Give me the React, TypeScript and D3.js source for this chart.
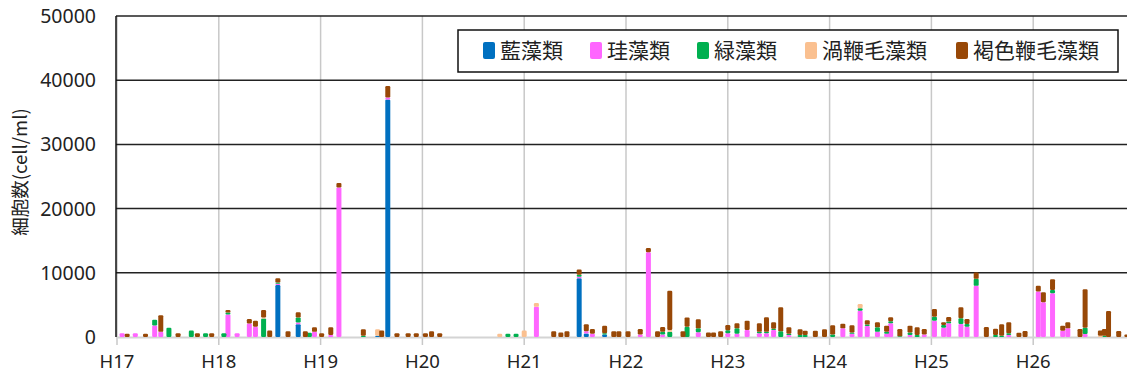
import React, { useEffect, useRef } from 'react';
import * as d3 from 'd3';

// sampling dates as decimal Heisei years (H17 = 17.0)
const dates = [
  17.05, 17.10, 17.18, 17.28, 17.37, 17.43, 17.51, 17.60, 17.73, 17.79, 17.87, 17.93,
  18.05, 18.09, 18.18, 18.30, 18.36, 18.44, 18.50, 18.58, 18.68, 18.78, 18.85, 18.89, 18.94,
  19.01, 19.10, 19.18, 19.42, 19.56, 19.60, 19.66, 19.75, 19.86, 19.94,
  20.03, 20.09, 20.17, 20.76, 20.84, 20.92,
  21.00, 21.12, 21.29, 21.36, 21.42, 21.54, 21.61, 21.67, 21.79, 21.88, 21.93,
  22.02, 22.14, 22.22, 22.31, 22.36, 22.43, 22.56, 22.60, 22.71, 22.81, 22.86, 22.93,
  23.00, 23.09, 23.19, 23.31, 23.38, 23.45, 23.52, 23.60, 23.71, 23.76, 23.86, 23.95,
  24.03, 24.13, 24.22, 24.30, 24.37, 24.47, 24.56, 24.60, 24.69, 24.79, 24.86, 24.93,
  25.03, 25.12, 25.17, 25.29, 25.35, 25.44, 25.54, 25.63, 25.69, 25.76, 25.86, 25.92,
  26.05, 26.10, 26.19, 26.29, 26.34, 26.46, 26.51, 26.66, 26.70, 26.74, 26.84, 26.92,
];

const blue = [
  0, 0, 0, 0, 0, 0, 0, 0, 0, 0, 0, 0,
  0, 0, 0, 0, 0, 0, 0, 8100, 0, 2000, 0, 0, 0,
  0, 0, 0, 0, 200, 0, 37000, 0, 0, 0,
  0, 0, 0, 0, 0, 0,
  0, 0, 0, 0, 0, 9150, 550, 0, 400, 0, 0,
  0, 0, 0, 0, 0, 0, 0, 0, 0, 0, 0, 0,
  0, 0, 0, 0, 0, 0, 0, 0, 0, 0, 0, 0,
  0, 0, 0, 0, 0, 0, 0, 0, 0, 0, 0, 0,
  0, 0, 0, 0, 0, 0, 0, 0, 0, 0, 0, 0,
  0, 0, 0, 0, 0, 0, 0, 0, 0, 0, 0, 0,
];

const pink = [
  600, 0, 600, 0, 1800, 800, 0, 0, 0, 0, 0, 0,
  0, 3500, 600, 2100, 1600, 0, 0, 200, 0, 250, 0, 0, 800,
  0, 300, 23300, 0, 0, 0, 300, 0, 0, 0,
  0, 0, 0, 0, 0, 0,
  0, 4700, 0, 0, 0, 250, 350, 500, 0, 0, 0,
  0, 400, 13200, 0, 400, 0, 0, 0, 730, 0, 0, 0,
  600, 500, 1100, 600, 600, 1100, 0, 300, 0, 0, 0, 0,
  0, 1350, 500, 4100, 1720, 800, 500, 2130, 0, 300, 0, 400,
  2550, 1460, 2130, 2030, 1610, 7970, 0, 0, 0, 300, 0, 0,
  7080, 5410, 6820, 990, 1350, 0, 470, 0, 0, 0, 0, 0,
];

const green = [
  0, 0, 0, 0, 900, 0, 1450, 0, 1000, 0, 600, 0,
  600, 300, 0, 0, 0, 2900, 0, 200, 0, 800, 0, 650, 0,
  0, 0, 0, 200, 0, 0, 0, 0, 0, 0,
  0, 0, 0, 0, 500, 500,
  0, 0, 0, 0, 0, 300, 0, 0, 200, 0, 0,
  0, 0, 0, 0, 400, 800, 0, 1600, 620, 0, 0, 0,
  450, 850, 0, 200, 200, 200, 880, 200, 300, 300, 0, 0,
  400, 0, 200, 370, 210, 700, 330, 320, 100, 400, 300, 0,
  620, 410, 270, 890, 420, 1090, 0, 300, 200, 300, 0, 0,
  0, 0, 520, 0, 0, 0, 990, 0, 200, 0, 0, 0,
];

const peach = [
  0, 0, 0, 0, 0, 0, 0, 0, 0, 0, 0, 0,
  0, 0, 0, 0, 0, 150, 0, 0, 0, 0, 0, 0, 0,
  0, 0, 0, 0, 1000, 0, 0, 0, 0, 0,
  0, 0, 0, 500, 0, 0,
  1000, 600, 0, 0, 0, 0, 0, 0, 0, 0, 0,
  0, 0, 0, 0, 0, 300, 0, 0, 0, 0, 0, 0,
  0, 0, 0, 0, 0, 0, 0, 0, 0, 0, 0, 0,
  0, 0, 0, 680, 0, 0, 0, 0, 0, 0, 0, 0,
  0, 0, 0, 0, 0, 0, 0, 0, 0, 0, 0, 0,
  0, 0, 0, 0, 0, 0, 0, 200, 0, 0, 0, 0,
];

const brown = [
  0, 500, 0, 500, 0, 2600, 0, 600, 0, 600, 0, 600,
  0, 400, 0, 700, 950, 1150, 1000, 650, 900, 800, 900, 0, 700,
  600, 1200, 700, 1000, 0, 1000, 1800, 600, 600, 600,
  600, 900, 600, 0, 0, 0,
  0, 0, 900, 700, 900, 800, 1100, 750, 1150, 900, 900,
  900, 850, 650, 900, 750, 6100, 900, 1450, 1400, 700, 700, 900,
  800, 780, 1450, 1330, 2270, 990, 3750, 1000, 900, 690, 990, 1200,
  1420, 730, 1120, 0, 670, 790, 940, 620, 1150, 1070, 1200, 850,
  1200, 420, 720, 1710, 780, 990, 1560, 1000, 1780, 1690, 680, 940,
  890, 1570, 1670, 780, 940, 1250, 5980, 800, 1050, 4060, 940, 400,
];

const seriesNames = ['藍藻類', '珪藻類', '緑藻類', '渦鞭毛藻類', '褐色鞭毛藻類'];
const seriesColors = ['#0070C0', '#FF66FF', '#00B050', '#FAC090', '#984807'];
const yTicks = [0, 10000, 20000, 30000, 40000, 50000];
const yearLabels = ['H17', 'H18', 'H19', 'H20', 'H21', 'H22', 'H23', 'H24', 'H25', 'H26'];

const W = 1127;
const H = 376;

const App: React.FC = () => {
  const svgRef = useRef<SVGSVGElement>(null);

  useEffect(() => {
    if (!svgRef.current) return;
    const svg = d3.select(svgRef.current);
    svg.selectAll('*').remove();

    const left = 116, top = 16, bottom = 337, right = W;

    const x = d3.scaleLinear().domain([17, 27]).range([117, 1135]);
    const y = d3.scaleLinear().domain([0, 50000]).range([bottom, top]);

    const rows = dates.map((d, i) => ({
      t: d,
      s0: blue[i], s1: pink[i], s2: green[i], s3: peach[i], s4: brown[i],
    }));
    const keys = ['s0', 's1', 's2', 's3', 's4'];
    const stacked = d3.stack<any>().keys(keys)(rows);

    svg.append('rect').attr('width', W).attr('height', H).attr('fill', 'white');

    // vertical year lines
    svg.append('g').selectAll('line')
      .data(d3.range(17, 27))
      .enter().append('line')
      .attr('x1', d => x(d)).attr('x2', d => x(d))
      .attr('y1', top).attr('y2', bottom + 8)
      .attr('stroke', '#c8c8c8').attr('stroke-width', 1.5);

    // horizontal grid
    svg.append('g').selectAll('line')
      .data(yTicks.filter(v => v > 0))
      .enter().append('line')
      .attr('x1', left).attr('x2', right)
      .attr('y1', d => y(d)).attr('y2', d => y(d))
      .attr('stroke', '#222').attr('stroke-width', 1.5);

    // bottom axis
    svg.append('line')
      .attr('x1', left).attr('x2', right).attr('y1', bottom + 0.5).attr('y2', bottom + 0.5)
      .attr('stroke', '#d4d4d4').attr('stroke-width', 2);

    // left axis
    svg.append('line')
      .attr('x1', left).attr('x2', left).attr('y1', top).attr('y2', bottom)
      .attr('stroke', '#111').attr('stroke-width', 1.5);

    // bars
    const bw = 5;
    svg.append('g').selectAll('g')
      .data(stacked)
      .enter().append('g')
      .attr('fill', (_d, i) => seriesColors[i])
      .selectAll('rect')
      .data(d => d.filter(p => p[1] - p[0] > 0))
      .enter().append('rect')
      .attr('x', d => x(d.data.t) - bw / 2)
      .attr('width', bw)
      .attr('y', d => y(d[1]))
      .attr('height', d => y(d[0]) - y(d[1]))
      .attr('rx', 1.2);

    // y tick labels
    svg.append('g').selectAll('text')
      .data(yTicks)
      .enter().append('text')
      .attr('x', 96).attr('y', d => y(d))
      .attr('dy', '0.36em')
      .attr('text-anchor', 'end')
      .attr('font-family', '"Noto Sans", sans-serif')
      .attr('font-size', 19.5)
      .attr('fill', '#222')
      .text(d => String(d));

    // x labels
    svg.append('g').selectAll('text')
      .data(yearLabels)
      .enter().append('text')
      .attr('x', (_d, i) => x(17 + i))
      .attr('y', 368)
      .attr('text-anchor', 'middle')
      .attr('font-family', '"Noto Sans", sans-serif')
      .attr('font-size', 18.5)
      .attr('fill', '#222')
      .text(d => d);

    // y title
    svg.append('text')
      .attr('transform', `translate(27,172) rotate(-90)`)
      .attr('text-anchor', 'middle')
      .attr('font-family', '"Noto Sans CJK JP", "Noto Sans", sans-serif')
      .attr('font-size', 18.5)
      .attr('fill', '#222')
      .text('細胞数(cell/ml)');

    // legend
    const lg = svg.append('g');
    lg.append('rect')
      .attr('x', 458).attr('y', 30).attr('width', 660).attr('height', 42)
      .attr('fill', 'white').attr('stroke', '#111').attr('stroke-width', 1.5);
    const markerX = [483, 590, 697, 805, 956];
    seriesNames.forEach((name, i) => {
      lg.append('rect')
        .attr('x', markerX[i]).attr('y', 42).attr('width', 12).attr('height', 17).attr('rx', 2)
        .attr('fill', seriesColors[i]);
      lg.append('text')
        .attr('x', markerX[i] + 17).attr('y', 50).attr('dy', '0.36em')
        .attr('font-family', '"Noto Sans CJK JP", sans-serif')
        .attr('font-size', 21)
        .attr('fill', '#222')
        .text(name);
    });
  }, []);

  return (
    <svg
      ref={svgRef}
      width={W}
      height={H}
      viewBox={`0 0 ${W} ${H}`}
      style={{ position: 'absolute', left: 0, top: 0, display: 'block' }}
    />
  );
};

export default App;
